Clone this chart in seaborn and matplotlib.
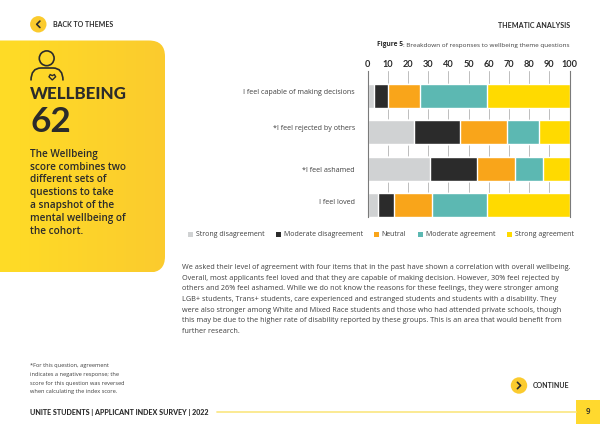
import numpy as np
import pandas as pd
import matplotlib
matplotlib.use("Agg")
import matplotlib.pyplot as plt
from matplotlib.patches import FancyBboxPatch, Circle, Rectangle, PathPatch
from matplotlib.path import Path
from matplotlib.transforms import ScaledTranslation
import seaborn as sns

W, H = 600, 424

items = ["I feel capable of making decisions", "*I feel rejected by others",
         "*I feel ashamed", "I feel loved"]
responses = ["Strong disagreement", "Moderate disagreement", "Neutral",
             "Moderate agreement", "Strong agreement"]
strong_dis = [3, 23, 31, 5]
moderate_dis = [7, 23, 23, 8]
neutral = [16, 23, 19, 19]
moderate_agr = [33, 16, 14, 27]
strong_agr = [41, 15, 13, 41]
colors = ["#D0D2D3", "#2B2B2B", "#F9A51A", "#5CB8B2", "#FFDA00"]
ticks = list(range(0, 101, 10))

sns.set_theme(style="white")
plt.rcParams["font.family"] = ["Open Sans", "DejaVu Sans"]
DARK = "#2B2B2B"
BODY = "#3F3F3F"

fig = plt.figure(figsize=(W / 100, H / 100), dpi=100, facecolor="white")
renderer = fig.canvas.get_renderer()

# full-page layer measured in pixels from the top-left corner
page = fig.add_axes([0, 0, 1, 1], zorder=0)
page.axis("off")

# side panel with a soft horizontal gradient, rounded on the right
panel = FancyBboxPatch((-30, 40.5), 195, 232, boxstyle="round,pad=0,rounding_size=16",
                       fc="none", ec="none", zorder=1)
page.add_patch(panel)
grad = np.linspace(0, 1, 256).reshape(1, -1)
cmap = matplotlib.colors.LinearSegmentedColormap.from_list("panel", ["#FFDC26", "#FBCB2E"])
img = page.imshow(grad, extent=(0, 165, 272.5, 40.5), aspect="auto", cmap=cmap, zorder=1)
img.set_clip_path(panel)
page.set_xlim(0, W)
page.set_ylim(H, 0)


def fitted_size(text, width, **font):
    """Font size at which a string spans the given pixel width."""
    probe = fig.text(0, 0, text, fontsize=10, **font)
    measured = probe.get_window_extent(renderer).width
    probe.remove()
    return 10 * width / measured


def button(x, y, direction):
    page.add_patch(Circle((x, y), 8.2, fc="#FBCB2E", ec="none", zorder=2))
    d = 3.2 * direction
    page.plot([x + d * 0.5, x - d * 0.5, x + d * 0.5], [y - 3.2, y, y + 3.2],
              color=DARK, lw=1.2, zorder=3, solid_capstyle="round")


HEAD = dict(family="Lato", weight="bold")
BLACK = dict(family="Lato", weight="black")

button(38.3, 24.3, 1)
button(519, 385.5, -1)
page.text(53, 24.5, "BACK TO THEMES", fontsize=fitted_size("BACK TO THEMES", 60, **HEAD),
          color=DARK, va="center", **HEAD)
page.text(533, 385.5, "CONTINUE", fontsize=fitted_size("CONTINUE", 36.5, **HEAD),
          color=DARK, va="center", **HEAD)
page.text(570, 25, "THEMATIC ANALYSIS", fontsize=fitted_size("THEMATIC ANALYSIS", 72, **HEAD),
          color=DARK, va="center", ha="right", **HEAD)

# person-with-heart icon
page.add_patch(Circle((46.7, 58.3), 7.4, fc="none", ec=DARK, lw=1.2, zorder=3))
body = Path([(31, 80.5), (31, 68), (41, 68), (53, 68), (63, 68), (63, 80.5)],
            [Path.MOVETO, Path.CURVE3, Path.CURVE3, Path.LINETO, Path.CURVE3, Path.CURVE3])
page.add_patch(PathPatch(body, fc="none", ec=DARK, lw=1.2, zorder=3))
heart = Path([(52.3, 80), (49, 76.8), (50.2, 74.6), (52.3, 75.6), (54.4, 74.6), (55.6, 76.8), (52.3, 80)],
             [Path.MOVETO, Path.LINETO, Path.LINETO, Path.LINETO, Path.LINETO, Path.LINETO,
              Path.CLOSEPOLY])
page.add_patch(PathPatch(heart, fc="none", ec=DARK, lw=1.0, zorder=3))

page.text(30, 94, "WELLBEING", fontsize=fitted_size("WELLBEING", 97, **BLACK), color=DARK,
          va="center", zorder=3, **BLACK)
page.text(30, 122, "62", fontsize=fitted_size("62", 41, **HEAD), color=DARK,
          va="center", zorder=3, **HEAD)
blurb = ["The Wellbeing", "score combines two", "different sets of", "questions to take",
         "a snapshot of the", "mental wellbeing of", "the cohort."]
blurb_size = fitted_size(blurb[1], 96, weight="semibold")
for i, line in enumerate(blurb):
    page.text(30, 154.3 + i * 12.85, line, weight="semibold", fontsize=blurb_size, color=DARK,
              va="center", zorder=3)

caption = ": Breakdown of responses to wellbeing theme questions"
page.text(376.7, 45, "Figure 5", weight="bold", color=DARK, va="center",
          fontsize=fitted_size("Figure 5", 26, weight="bold"))
page.text(403, 45, caption, fontsize=fitted_size(caption, 166), color=BODY, va="center")

body_lines = [
    "We asked their level of agreement with four items that in the past have shown a correlation with overall wellbeing.",
    "Overall, most applicants feel loved and that they are capable of making decision. However, 30% feel rejected by",
    "others and 26% feel ashamed. While we do not know the reasons for these feelings, they were stronger among",
    "LGB+ students, Trans+ students, care experienced and estranged students and students with a disability. They",
    "were also stronger among White and Mixed Race students and those who had attended private schools, though",
    "this may be due to the higher rate of disability reported by these groups. This is an area that would benefit from",
    "further research.",
]
body_size = fitted_size(body_lines[0], 386)
for i, line in enumerate(body_lines):
    page.text(182, 267.5 + i * 10.7, line, fontsize=body_size, color=BODY, va="center")

note = ["*For this question, agreement", "indicates a negative response; the",
        "score for this question was reversed", "when calculating the index score."]
note_size = fitted_size(note[2], 96)
for i, line in enumerate(note):
    page.text(30, 366 + i * 8.6, line, fontsize=note_size, color=BODY, va="center")

footer = "UNITE STUDENTS | APPLICANT INDEX SURVEY | 2022"
page.text(30, 412, footer, fontsize=fitted_size(footer, 177.5, **BLACK), color=DARK, va="center", **BLACK)
page.plot([217, 576], [412, 412], color="#FBE88A", lw=1.3)
page.add_patch(Rectangle((576, 400), 24, 24, fc="#FFD92E", ec="none"))
page.text(588, 412, "9", weight="semibold", fontsize=5.6, color=DARK, va="center", ha="center")

# stacked chart: wider cumulative bars go first so shorter ones sit on top
left, right, top, bottom = 367.5, 569.5, 71, 217
ax = fig.add_axes([left / W, 1 - bottom / H, (right - left) / W, (bottom - top) / H], zorder=2)
ax.patch.set_alpha(0)
series = np.array([strong_dis, moderate_dis, neutral, moderate_agr, strong_agr], dtype=float)
cumulative = series.cumsum(axis=0)
frame = pd.DataFrame({"item": items})
for name, cum, colour in reversed(list(zip(responses, cumulative, colors))):
    frame["total"] = cum
    sns.barplot(data=frame, y="item", x="total", order=items, color=colour, saturation=1,
                width=0.66, ax=ax, zorder=3)

ax.set_xlim(0, 100)
# scale chosen so rows sit 36.4 px apart with the last bar resting on the baseline
ax.set_ylim(3.33, -0.68)
ax.set_xlabel("")
ax.set_ylabel("")
ax.set_xticks(ticks)
ax.xaxis.tick_top()
ax.set_xticklabels([str(t) for t in ticks], family="Lato", weight="bold", fontsize=6.6, color=DARK)
ax.tick_params(axis="x", length=0, pad=1.5)
ax.tick_params(axis="y", length=0, pad=9, labelsize=fitted_size(items[0], 112), labelcolor=BODY)
ax.xaxis.grid(True, color="#BDBDBD", lw=0.7, zorder=0)
ax.set_axisbelow(True)
for side in ("bottom", "top"):
    ax.spines[side].set_visible(False)
for side in ("left", "right"):
    ax.spines[side].set_color("#7A7A7A")
    ax.spines[side].set_linewidth(0.8)
    ax.spines[side].set_zorder(6)

# row labels sit slightly off their bar centres (pixels, up is positive)
label_shift = [4.3, 4.6, -1.3, 3.6]
for label, shift in zip(ax.get_yticklabels(), label_shift):
    label.set_transform(label.get_transform() + ScaledTranslation(0, shift / 100, fig.dpi_scale_trans))

# key row under the chart
key_x = [188, 275.7, 374, 418, 507]
key_size = fitted_size(responses[0], 68)
for name, colour, x in zip(responses, colors, key_x):
    page.add_patch(Rectangle((x, 232.3), 4.8, 4.8, fc=colour, ec="none"))
    page.text(x + 7.8, 234.7, name, fontsize=key_size, color=BODY, va="center")

fig.savefig("out.png", dpi=100)
